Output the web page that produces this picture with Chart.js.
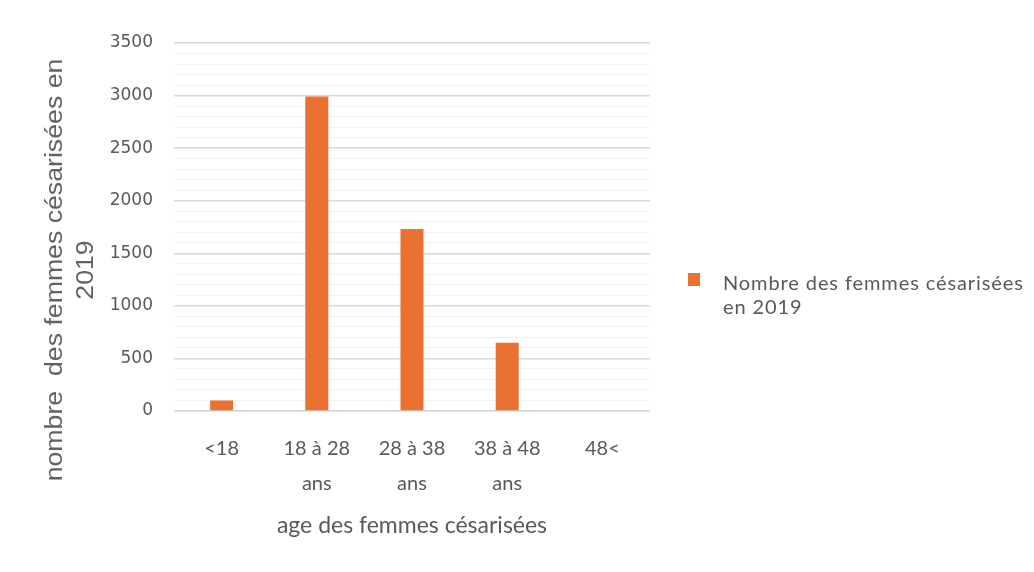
<!DOCTYPE html>
<html lang="fr">
<head>
<meta charset="utf-8">
<title>Femmes césarisées en 2019</title>
<script src="https://cdn.jsdelivr.net/npm/chart.js@4/dist/chart.umd.min.js"></script>
<style>
  html, body { margin: 0; padding: 0; background: #ffffff; }
  #wrap { position: relative; width: 1034px; height: 572px; }
</style>
</head>
<body>
<div id="wrap"><canvas id="c" width="1034" height="572"></canvas></div>
<script>
// Age groups (multi-line labels) and counts
const categories = ['<18', ['18 à 28', 'ans'], ['28 à 38', 'ans'], ['38 à 48', 'ans'], '48<'];
const values = [100, 2990, 1730, 650, 0];
const seriesLabel = 'Nombre des femmes césarisées en 2019';
const legendLines = ['Nombre des femmes césarisées', 'en 2019'];
const yTitleLines = ['nombre  des femmes césarisées en', '2019'];
const xTitle = 'age des femmes césarisées';
const yMax = 3500;
const majorStep = 500;
const minorStep = 100;

const TEXT = '#595959';
const BAR = '#E97132';

// Rotated y-axis title, drawn left of the tick labels
const yTitlePlugin = {
  id: 'yTitle',
  afterDraw(chart) {
    const ctx = chart.ctx;
    ctx.save();
    ctx.fillStyle = '#626262';
    ctx.font = '23px "Liberation Sans", Arial, sans-serif';
    ctx.textAlign = 'center';
    ctx.textBaseline = 'alphabetic';
    const baselines = [62, 93];
    yTitleLines.forEach((line, i) => {
      ctx.save();
      ctx.translate(baselines[i], 270);
      ctx.rotate(-Math.PI / 2);
      ctx.scale(1.16, 1);
      ctx.fillText(line, 0, 0);
      ctx.restore();
    });
    ctx.restore();
  }
};

// Legend to the right of the plot: square swatch plus two-line label
const sideLegendPlugin = {
  id: 'sideLegend',
  afterDraw(chart) {
    const ctx = chart.ctx;
    const ds = chart.data.datasets[0];
    ctx.save();
    ctx.fillStyle = ds.backgroundColor;
    ctx.fillRect(688, 273, 12, 13);
    ctx.fillStyle = TEXT;
    ctx.font = '20px Lato, "Open Sans", sans-serif';
    ctx.textAlign = 'left';
    ctx.textBaseline = 'alphabetic';
    if ('letterSpacing' in ctx) ctx.letterSpacing = '0.9px';
    legendLines.forEach((line, i) => ctx.fillText(line, 723, 290 + i * 24));
    ctx.restore();
  }
};

new Chart(document.getElementById('c'), {
  type: 'bar',
  data: {
    labels: categories,
    datasets: [{
      label: seriesLabel,
      data: values,
      backgroundColor: BAR,
      borderWidth: 0,
      inflateAmount: 0,
      barThickness: 23
    }]
  },
  options: {
    responsive: false,
    animation: false,
    events: [],
    layout: { padding: { top: 43, right: 384, bottom: 0, left: 0 } },
    plugins: {
      legend: { display: false },
      tooltip: { enabled: false }
    },
    scales: {
      x: {
        grid: { display: false },
        border: { display: false },
        ticks: {
          color: TEXT,
          font: { family: 'Lato', size: 20, lineHeight: 1.75 },
          padding: 12,
          maxRotation: 0,
          autoSkip: false
        },
        title: {
          display: true,
          text: xTitle,
          color: TEXT,
          font: { family: 'Lato', size: 23 },
          padding: { top: 6, bottom: 33 }
        },
        afterFit(scale) { scale.height = 161; }
      },
      y: {
        min: 0,
        max: yMax,
        border: { display: false },
        grid: {
          drawTicks: false,
          color(c) {
            const v = c.tick ? c.tick.value : 0;
            if (v === 0) return '#d0d0d0';
            return v % majorStep === 0 ? '#d9d9d9' : '#f0f0f0';
          },
          lineWidth(c) {
            const v = c.tick ? c.tick.value : 0;
            return v % majorStep === 0 ? 1.5 : 1;
          }
        },
        ticks: {
          stepSize: minorStep,
          autoSkip: false,
          color: TEXT,
          font: { family: '"DejaVu Sans"', size: 17 },
          padding: 21,
          callback(value) { return value % majorStep === 0 ? String(value) : ''; }
        },
        afterFit(scale) { scale.width = 174; }
      }
    }
  },
  plugins: [yTitlePlugin, sideLegendPlugin]
});
</script>
</body>
</html>
